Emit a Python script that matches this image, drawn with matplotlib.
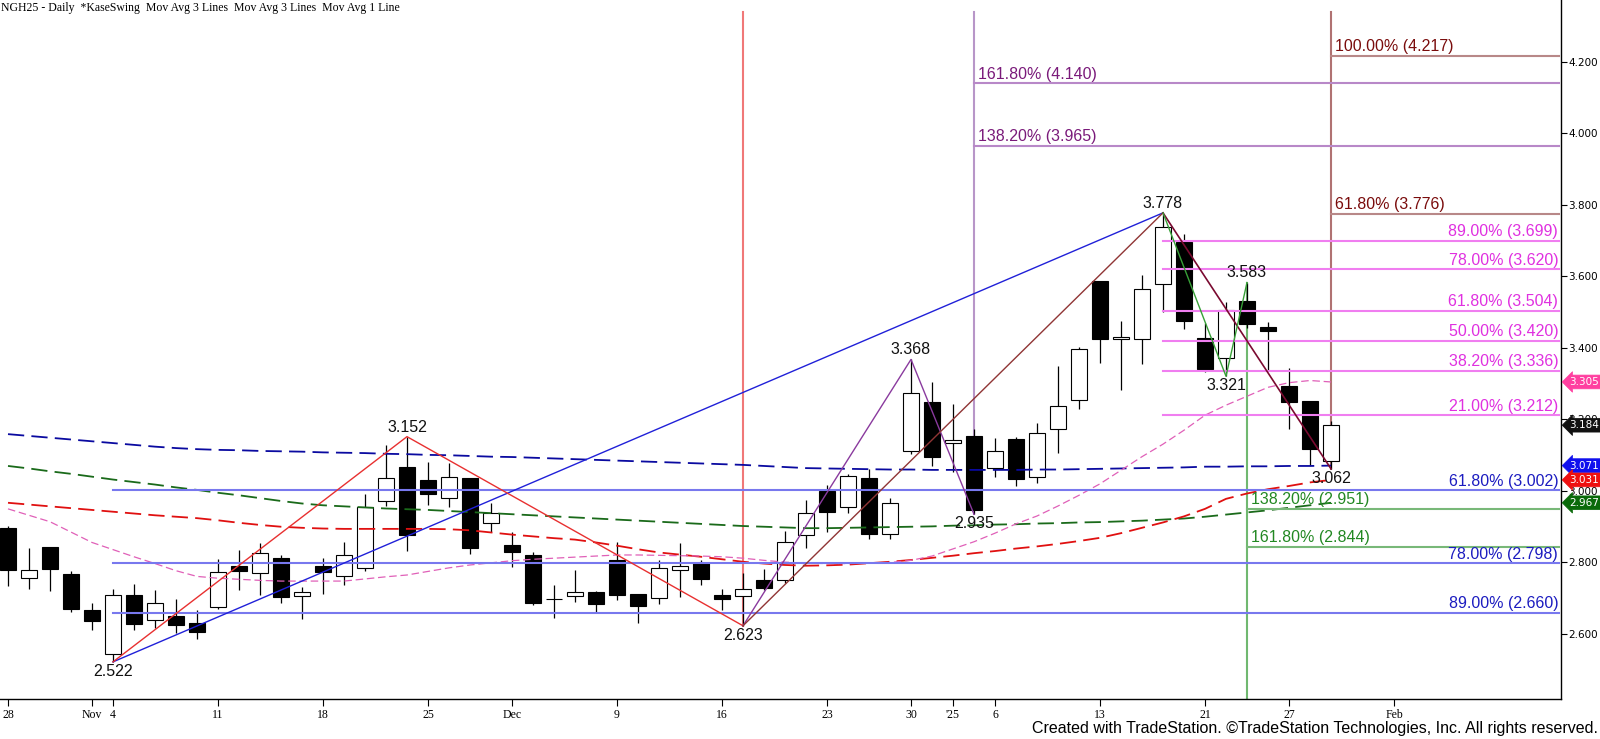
import matplotlib
matplotlib.use("Agg")
import matplotlib.pyplot as plt
import matplotlib.transforms as mtransforms
from matplotlib.patches import Rectangle

# ---------------- data ----------------
# trading-day index 0 = Oct 28 2024 ... 63 = Jan 29 2025
opens = [2.897, 2.758, 2.843, 2.768, 2.667, 2.543, 2.708, 2.638, 2.650, 2.632,
         2.676, 2.790, 2.770, 2.812, 2.705, 2.790, 2.762, 2.784, 2.972, 3.067,
         3.031, 2.981, 3.036, 2.910, 2.849, 2.821, 2.697, 2.705, 2.717, 2.806,
         2.711, 2.700, 2.778, 2.798, 2.708, 2.705, 2.750, 2.750, 2.876, 3.000,
         2.954, 3.037, 2.879, 3.112, 3.249, 3.133, 3.153, 3.063, 3.145, 3.038,
         3.173, 3.254, 3.587, 3.425, 3.424, 3.578, 3.697, 3.427, 3.371, 3.531,
         3.458, 3.295, 3.252, 3.083]
highs = [2.902, 2.841, 2.843, 2.775, 2.687, 2.725, 2.740, 2.722, 2.698, 2.667,
         2.810, 2.835, 2.854, 2.821, 2.731, 2.812, 2.857, 2.991, 3.129, 3.152,
         3.080, 3.079, 3.036, 2.966, 2.884, 2.829, 2.737, 2.779, 2.719, 2.857,
         2.711, 2.807, 2.854, 2.806, 2.726, 2.770, 2.781, 2.888, 2.975, 3.017,
         3.048, 3.061, 2.979, 3.368, 3.304, 3.243, 3.173, 3.147, 3.152, 3.189,
         3.350, 3.404, 3.587, 3.475, 3.604, 3.778, 3.719, 3.469, 3.530, 3.583,
         3.472, 3.345, 3.252, 3.196]
lows = [2.735, 2.726, 2.720, 2.662, 2.611, 2.522, 2.611, 2.618, 2.604, 2.585,
        2.670, 2.723, 2.709, 2.688, 2.641, 2.711, 2.736, 2.777, 2.958, 2.833,
        2.960, 2.955, 2.824, 2.886, 2.786, 2.682, 2.644, 2.690, 2.661, 2.695,
        2.630, 2.683, 2.704, 2.736, 2.667, 2.623, 2.723, 2.744, 2.841, 2.886,
        2.938, 2.865, 2.867, 3.103, 3.070, 3.054, 2.935, 3.038, 3.015, 3.022,
        3.105, 3.229, 3.357, 3.283, 3.354, 3.502, 3.452, 3.332, 3.321, 3.455,
        3.338, 3.174, 3.072, 3.062]
closes = [2.779, 2.779, 2.782, 2.670, 2.637, 2.708, 2.629, 2.687, 2.626, 2.606,
          2.773, 2.777, 2.826, 2.704, 2.717, 2.774, 2.820, 2.956, 3.035, 2.878,
          2.992, 3.038, 2.841, 2.939, 2.830, 2.688, 2.698, 2.717, 2.683, 2.710,
          2.677, 2.784, 2.789, 2.753, 2.699, 2.725, 2.730, 2.857, 2.938, 2.942,
          3.042, 2.881, 2.966, 3.273, 3.096, 3.143, 2.948, 3.111, 3.033, 3.161,
          3.237, 3.396, 3.426, 3.432, 3.564, 3.738, 3.476, 3.342, 3.505, 3.466,
          3.448, 3.249, 3.118, 3.184]

ma_blue = [3.159, 3.154, 3.149, 3.144, 3.139, 3.134, 3.129, 3.124, 3.120, 3.117,
           3.115, 3.114, 3.112, 3.111, 3.110, 3.108, 3.107, 3.106, 3.104, 3.103,
           3.101, 3.100, 3.098, 3.096, 3.095, 3.093, 3.091, 3.089, 3.087, 3.085,
           3.083, 3.081, 3.079, 3.077, 3.075, 3.073, 3.070, 3.067, 3.064, 3.063,
           3.062, 3.061, 3.060, 3.060, 3.059, 3.059, 3.059, 3.059, 3.059, 3.060,
           3.060, 3.061, 3.062, 3.063, 3.064, 3.065, 3.066, 3.068, 3.068, 3.069,
           3.069, 3.070, 3.070, 3.071]
ma_green = [3.070, 3.063, 3.055, 3.048, 3.040, 3.032, 3.025, 3.018, 3.010, 3.003,
            2.995, 2.988, 2.980, 2.972, 2.965, 2.960, 2.957, 2.954, 2.951, 2.949,
            2.947, 2.944, 2.941, 2.938, 2.935, 2.932, 2.929, 2.926, 2.923, 2.920,
            2.917, 2.914, 2.911, 2.908, 2.905, 2.902, 2.900, 2.898, 2.896, 2.896,
            2.897, 2.898, 2.899, 2.900, 2.901, 2.903, 2.904, 2.906, 2.907, 2.909,
            2.910, 2.912, 2.913, 2.915, 2.917, 2.920, 2.923, 2.928, 2.934, 2.940,
            2.946, 2.953, 2.960, 2.967]
ma_red = [2.967, 2.962, 2.957, 2.952, 2.947, 2.942, 2.937, 2.932, 2.928, 2.924,
          2.918, 2.911, 2.905, 2.900, 2.897, 2.895, 2.894, 2.894, 2.894, 2.894,
          2.894, 2.893, 2.890, 2.884, 2.878, 2.873, 2.868, 2.864, 2.856, 2.847,
          2.837, 2.828, 2.822, 2.816, 2.809, 2.802, 2.797, 2.793, 2.791, 2.792,
          2.794, 2.798, 2.802, 2.807, 2.813, 2.819, 2.826, 2.832, 2.839, 2.845,
          2.852, 2.860, 2.869, 2.882, 2.897, 2.912, 2.929, 2.950, 2.978, 2.993,
          3.005, 3.014, 3.024, 3.031]
ma_pink = [2.950, 2.932, 2.914, 2.885, 2.856, 2.836, 2.816, 2.797, 2.777, 2.761,
           2.756, 2.753, 2.750, 2.748, 2.748, 2.748, 2.748, 2.754, 2.760, 2.765,
           2.775, 2.785, 2.793, 2.799, 2.805, 2.809, 2.812, 2.815, 2.818, 2.821,
           2.821, 2.820, 2.819, 2.818, 2.816, 2.812, 2.806, 2.801, 2.798, 2.797,
           2.797, 2.798, 2.800, 2.806, 2.818, 2.838, 2.858, 2.882, 2.908, 2.930,
           2.958, 2.988, 3.020, 3.058, 3.096, 3.131, 3.170, 3.212, 3.240, 3.265,
           3.290, 3.303, 3.309, 3.305]

# swing points (bar index, price)
zig_red_x = [5, 19, 35]
zig_red_y = [2.522, 3.152, 2.623]
swing_blue_x = [5, 55]
swing_blue_y = [2.522, 3.778]
zig_purple_x = [35, 43, 46]
zig_purple_y = [2.623, 3.368, 2.935]
swing_brown_x = [35, 55]
swing_brown_y = [2.623, 3.778]
swing_maroon_x = [55, 63]
swing_maroon_y = [3.778, 3.062]
zig_green_x = [55, 58, 59]
zig_green_y = [3.778, 3.321, 3.583]

swing_labels = [(5, 2.522, "2.522", "below"), (19, 3.152, "3.152", "above"),
                (35, 2.623, "2.623", "below"), (43, 3.368, "3.368", "above"),
                (46, 2.935, "2.935", "below"), (55, 3.778, "3.778", "above"),
                (58, 3.321, "3.321", "below"), (59, 3.583, "3.583", "above"),
                (63, 3.062, "3.062", "below")]

blue_levels = [3.002, 2.798, 2.660]
blue_pcts = ["61.80%", "78.00%", "89.00%"]
mag_levels = [3.699, 3.620, 3.504, 3.420, 3.336, 3.212]
mag_pcts = ["89.00%", "78.00%", "61.80%", "50.00%", "38.20%", "21.00%"]
purple_levels = [4.140, 3.965]
purple_pcts = ["161.80%", "138.20%"]
dred_levels = [4.217, 3.776]
dred_pcts = ["100.00%", "61.80%"]
green_levels = [2.951, 2.844]
green_pcts = ["138.20%", "161.80%"]

xtick_pos = [0, 4, 5, 10, 15, 20, 24, 29, 34, 39, 43, 45, 47, 52, 57, 61, 66]
xtick_lab = ["28", "Nov", "4", "11", "18", "25", "Dec", "9", "16", "23", "30",
             "'25", "6", "13", "21", "27", "Feb"]
ytick_vals = [2.6, 2.8, 3.0, 3.2, 3.4, 3.6, 3.8, 4.0, 4.2]

price_boxes = [(3.305, "3.305", "#ff3fa0"), (3.184, "3.184", "#111111"),
               (3.071, "3.071", "#1010ee"), (3.031, "3.031", "#ee1010"),
               (2.967, "2.967", "#0a6a0a")]

# ---------------- figure ----------------
W, H = 1600, 739
fig = plt.figure(figsize=(W / 100, H / 100), dpi=100)
fig.patch.set_facecolor("white")
ax_right_px = 1561
ax_bottom_px = 699.3
ax = fig.add_axes([0, (H - ax_bottom_px) / H, ax_right_px / W, ax_bottom_px / H])
ax.set_xlim(-8 / 21, (ax_right_px - 8) / 21)
ax.set_ylim(2.4173, 4.3734)
for s in ["left", "top"]:
    ax.spines[s].set_visible(False)
for s in ["right", "bottom"]:
    ax.spines[s].set_linewidth(1.0)
    ax.spines[s].set_color("black")

X_END = 73.85
TOP_V = 4.34

# vertical lines
ax.plot([35, 35], [zig_red_y[2], TOP_V], color="#f07878", lw=1.5, zorder=1)
ax.plot([46, 46], [zig_purple_y[2], TOP_V], color="#b896c8", lw=1.5, zorder=1)
ax.plot([63, 63], [swing_maroon_y[1], TOP_V], color="#b07272", lw=1.5, zorder=1)
ax.plot([59, 59], [2.4173, zig_green_y[2]], color="#70b870", lw=1.5, zorder=1)

# candles
body_w = 0.76
for i in range(len(opens)):
    o, h, l, c = opens[i], highs[i], lows[i], closes[i]
    ax.plot([i, i], [l, h], color="black", lw=0.9, zorder=2, solid_capstyle="butt")
    bottom = min(o, c)
    height = max(abs(c - o), 0.002)
    fc = "white" if c >= o else "black"
    ax.add_patch(Rectangle((i - body_w / 2, bottom), body_w, height,
                           facecolor=fc, edgecolor="black", lw=0.8, zorder=2.5))

# moving averages
idx = list(range(len(ma_blue)))
ax.plot(idx, ma_blue, color="#0a0aa0", lw=1.3, dashes=(9, 4), zorder=3)
ax.plot(idx, ma_green, color="#1a6a1a", lw=1.3, dashes=(9, 4), zorder=3)
ax.plot(idx, ma_red, color="#e01010", lw=1.3, dashes=(9, 4), zorder=3)
ax.plot(idx, ma_pink, color="#e060b8", lw=0.9, dashes=(6, 3), zorder=3)

# fib lines and labels
lab_font = dict(family=["Liberation Sans", "DejaVu Sans"], fontsize=11.5)


def hlines(levels, pcts, x0, lcolor, tcolor, align):
    for v, p in zip(levels, pcts):
        ax.plot([x0, X_END], [v, v], color=lcolor, lw=1.5, zorder=4)
        if align == "right":
            ax.annotate(f"{p} ({v:.3f})", (73.82, v), xytext=(0, 1.2),
                        textcoords="offset points", ha="right", va="bottom",
                        color=tcolor, zorder=6, **lab_font)
        else:
            ax.annotate(f"{p} ({v:.3f})", (x0 + 0.2, v), xytext=(0, 1.2),
                        textcoords="offset points", ha="left", va="bottom",
                        color=tcolor, zorder=6, **lab_font)


hlines(blue_levels, blue_pcts, 5, "#7878ee", "#1c1cc0", "right")
hlines(mag_levels, mag_pcts, 55, "#f07ef0", "#e030e0", "right")
hlines(purple_levels, purple_pcts, 46, "#b888c8", "#7a1a7a", "left")
hlines(dred_levels, dred_pcts, 63, "#b88888", "#7a0c0c", "left")
hlines(green_levels, green_pcts, 59, "#78b878", "#228822", "left")

# zigzags
ax.plot(swing_blue_x, swing_blue_y, color="#2020d8", lw=1.0, zorder=5)
ax.plot(zig_red_x, zig_red_y, color="#e83030", lw=1.0, zorder=5)
ax.plot(zig_purple_x, zig_purple_y, color="#8a3a9e", lw=1.0, zorder=5)
ax.plot(swing_brown_x, swing_brown_y, color="#903535", lw=1.0, zorder=5)
ax.plot(swing_maroon_x, swing_maroon_y, color="#7a0a30", lw=1.2, zorder=5)
ax.plot(zig_green_x, zig_green_y, color="#38a038", lw=1.0, zorder=5)

for x, v, t, pos in swing_labels:
    if pos == "above":
        ax.annotate(t, (x, v), xytext=(0, 1.5), textcoords="offset points",
                    ha="center", va="bottom", color="#111111", zorder=6, **lab_font)
    else:
        ax.annotate(t, (x, v), xytext=(0, -1.5), textcoords="offset points",
                    ha="center", va="top", color="#111111", zorder=6, **lab_font)

# axes ticks
ax.yaxis.tick_right()
ax.set_yticks(ytick_vals)
ax.set_yticklabels([f"{v:.3f}" for v in ytick_vals])
ax.tick_params(axis="y", direction="out", length=4, width=0.8, pad=1,
               labelsize=7.5, colors="black")
for lbl in ax.get_yticklabels():
    lbl.set_family(["DejaVu Sans"])
    lbl.set_zorder(1)
ax.set_xticks(xtick_pos)
ax.set_xticklabels(xtick_lab)
ax.tick_params(axis="x", direction="out", length=5, width=0.8, pad=2,
               labelsize=8.5)
for lbl in ax.get_xticklabels():
    lbl.set_family(["Liberation Serif", "DejaVu Serif"])

# price boxes on the axis
trans = mtransforms.blended_transform_factory(ax.transAxes, ax.transData)
for v, t, col in price_boxes:
    ax.text(1.0055, v, t, transform=trans, ha="left", va="center",
            fontsize=7.5, color="white", family=["DejaVu Sans"], zorder=10,
            clip_on=False,
            bbox=dict(boxstyle="larrow,pad=0.18", fc=col, ec=col, lw=0.5))

# title and footer
fig.text(0.0005, 1 - 8.5 / H,
         "NGH25 - Daily  *KaseSwing  Mov Avg 3 Lines  Mov Avg 3 Lines  Mov Avg 1 Line",
         ha="left", va="center", fontsize=8.5,
         family=["Liberation Serif", "DejaVu Serif"], color="black")
fig.text(1598 / W, 1 - 729 / H,
         "Created with TradeStation. \u00a9TradeStation Technologies, Inc. All rights reserved.",
         ha="right", va="center", fontsize=11.5,
         family=["Liberation Sans Narrow", "Liberation Sans", "DejaVu Sans"],
         color="black")

fig.savefig("out.png", dpi=100, facecolor="white")
